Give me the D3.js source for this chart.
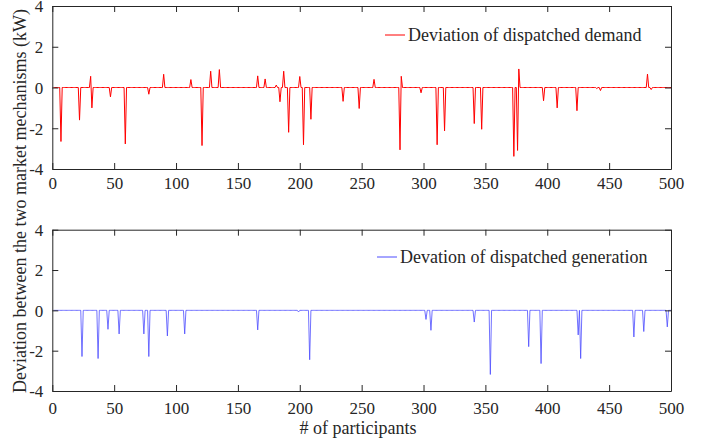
<!DOCTYPE html>
<html><head><meta charset="utf-8">
<script src="https://cdn.jsdelivr.net/npm/d3@7"></script>
<style>html,body{margin:0;padding:0;background:#fff}svg{display:block}</style>
</head><body><svg id="c" width="710" height="438"></svg>
<script>
// Data: participants 1..500, deviation is zero except at these participants
const nParticipants = 500;
const demandIdx = [7,22,31,32,47,59,78,90,112,121,128,135,166,172,181,184,187,191,200,203,209,235,248,260,281,282,298,311,317,341,347,373,376,377,397,408,424,440,443,481,484];
const demandVal = [-2.65,-1.6,0.55,-1.0,-0.46,-2.77,-0.33,0.65,0.39,-2.85,0.8,0.88,0.57,0.42,0.12,-0.7,0.8,-2.2,0.54,-2.81,-1.56,-0.68,-1.03,0.4,-3.06,0.55,-0.26,-2.81,-2.13,-1.77,-2.05,-3.38,-3.09,0.91,-0.65,-1.0,-1.14,-0.05,-0.15,0.66,-0.1];
const genIdx = [24,37,45,54,74,78,93,107,166,199,208,302,306,341,354,385,395,425,427,470,478,497];
const genVal = [-2.29,-2.39,-0.94,-1.17,-1.17,-2.29,-1.27,-1.17,-0.97,-0.08,-2.45,-0.45,-0.99,-0.58,-3.18,-1.8,-2.64,-1.22,-2.39,-1.32,-1.05,-0.82];
const xTicks = [0,50,100,150,200,250,300,350,400,450,500];
const yTicks = [-4,-2,0,2,4];
const legendLabels = ["Deviation of dispatched demand","Devation of dispatched generation"];

function series(idx, val){
  const m = new Map(idx.map((p,i)=>[p,val[i]]));
  return d3.range(1, nParticipants+1).map(p => ({x:p, y: m.has(p)? m.get(p) : 0}));
}
const demand = series(demandIdx, demandVal);
const gen = series(genIdx, genVal);

const FONT = "'Liberation Serif'";
const FS = 18;
const svg = d3.select("#c");
const L = 52.3, R = 671;
const panels = [
  {top:6, bottom:169, data:demand, color:"#ff0000", width:1, label:legendLabels[0], legX:385, legY:35, tickLabY:185},
  {top:229.7, bottom:391, data:gen, color:"#4d4dff", width:0.8, label:legendLabels[1], legX:377, legY:257, tickLabY:410}
];
const x = d3.scaleLinear().domain([0,500]).range([L,R]);
const axisColor = "#262626";
const fmt = d => String(d);

function styleText(sel, fs){ return sel.style("font-family",FONT).attr("font-size",fs||FS).attr("fill",axisColor); }

panels.forEach(p=>{
  const y = d3.scaleLinear().domain([-4,4]).range([p.bottom,p.top]);
  const g = svg.append("g");
  g.append("path").datum(p.data)
    .attr("fill","none").attr("stroke",p.color).attr("stroke-width",p.width)
    .attr("d", d3.line().x(d=>x(d.x)).y(d=>y(d.y)));
  const tl = 6;
  const xb = g.append("g").attr("transform",`translate(0,${p.bottom})`)
    .call(d3.axisBottom(x).tickValues(xTicks).tickFormat(fmt).tickSizeInner(-tl).tickSizeOuter(0).tickPadding(10));
  const xt = g.append("g").attr("transform",`translate(0,${p.top})`)
    .call(d3.axisTop(x).tickValues(xTicks).tickSizeInner(-tl).tickSizeOuter(0).tickFormat(""));
  const yl = g.append("g").attr("transform",`translate(${L},0)`)
    .call(d3.axisLeft(y).tickValues(yTicks).tickFormat(fmt).tickSizeInner(-tl).tickSizeOuter(0).tickPadding(9));
  const yr = g.append("g").attr("transform",`translate(${R},0)`)
    .call(d3.axisRight(y).tickValues(yTicks).tickSizeInner(-tl).tickSizeOuter(0).tickFormat(""));
  [xb,xt,yl,yr].forEach(a=>{
    a.attr("font-family",null).attr("font-size",null);
    a.selectAll("path,line").attr("stroke",axisColor).attr("stroke-width",1);
    styleText(a.selectAll("text"), 17);
  });
  xb.selectAll("text").attr("dy",null).attr("y", p.tickLabY - p.bottom).attr("dominant-baseline","middle");
  yl.selectAll("text").attr("dy","0.35em");
  g.append("line").attr("x1",p.legX).attr("x2",p.legX+20).attr("y1",p.legY).attr("y2",p.legY)
    .attr("stroke",p.color).attr("stroke-width",1);
  styleText(g.append("text").attr("x",p.legX+23).attr("y",p.legY).attr("dy","0.35em")).text(p.label);
});

styleText(svg.append("text").attr("transform","translate(20,201) rotate(-90)")
  .attr("text-anchor","middle").attr("dy","0.35em"))
  .text("Deviation between the two market mechanisms (kW)");
styleText(svg.append("text").attr("x",358).attr("y",428).attr("text-anchor","middle").attr("dy","0.35em"))
  .text("# of participants");
</script></body></html>
